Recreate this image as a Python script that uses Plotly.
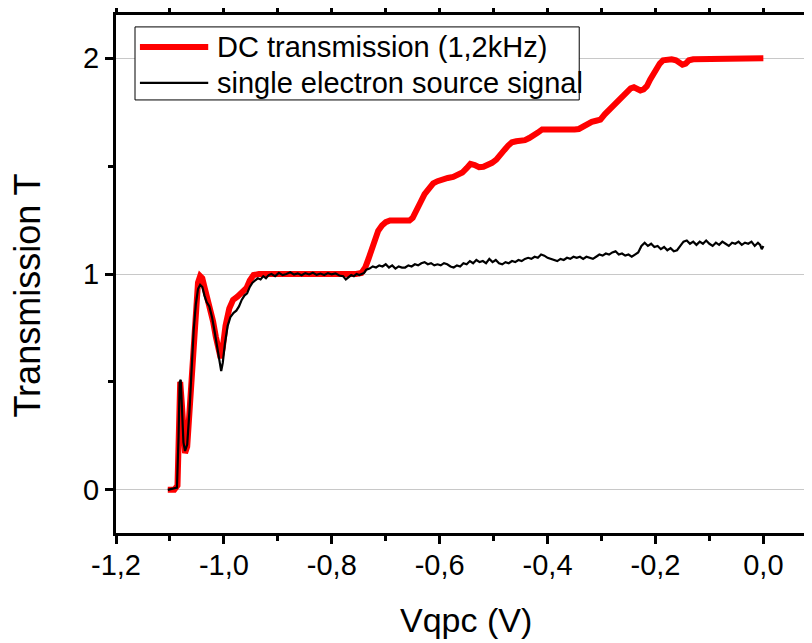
import plotly.graph_objects as go

red_x = [-1.104, -1.092, -1.086, -1.083, -1.081, -1.078, -1.075, -1.072, -1.068, -1.064, -1.060, -1.056,
         -1.052, -1.048, -1.044, -1.040, -1.035, -1.030, -1.025, -1.020, -1.015, -1.010, -1.006, -1.002,
         -0.997, -0.990, -0.983, -0.975, -0.965, -0.958, -0.952, -0.945, -0.935, -0.90, -0.85, -0.80,
         -0.77, -0.755, -0.745, -0.738, -0.732, -0.726, -0.720, -0.714, -0.707, -0.700, -0.692, -0.680,
         -0.668, -0.656, -0.650, -0.643, -0.636, -0.628, -0.620, -0.612, -0.604, -0.595, -0.585, -0.575,
         -0.566, -0.558, -0.550, -0.543, -0.535, -0.527, -0.519, -0.511, -0.503, -0.495, -0.487, -0.480,
         -0.473, -0.466, -0.458, -0.450, -0.442, -0.434, -0.426, -0.418, -0.410, -0.400, -0.390, -0.380,
         -0.370, -0.360, -0.350, -0.342, -0.334, -0.326, -0.318, -0.310, -0.302, -0.294, -0.286, -0.278,
         -0.270, -0.262, -0.254, -0.246, -0.240, -0.234, -0.228, -0.222, -0.216, -0.210, -0.204, -0.198,
         -0.192, -0.186, -0.178, -0.170, -0.162, -0.156, -0.150, -0.144, -0.138, -0.130, -0.120, -0.100,
         -0.080, -0.060, -0.040, -0.020, 0.0]
red_y = [0.0, 0.0, 0.02, 0.30, 0.50, 0.40, 0.22, 0.17, 0.20, 0.35, 0.55, 0.75,
         0.88, 0.96, 0.99, 0.98, 0.93, 0.88, 0.84, 0.78, 0.71, 0.64, 0.61, 0.66,
         0.76, 0.84, 0.88, 0.895, 0.92, 0.935, 0.97, 0.995, 1.0, 1.0, 1.0, 1.0,
         0.995, 1.0, 1.005, 1.03, 1.07, 1.11, 1.16, 1.20, 1.225, 1.24, 1.248, 1.25,
         1.25, 1.248, 1.26, 1.29, 1.33, 1.37, 1.40, 1.42, 1.43, 1.44, 1.445, 1.45,
         1.46, 1.47, 1.49, 1.51, 1.505, 1.495, 1.497, 1.505, 1.515, 1.53, 1.55, 1.575,
         1.595, 1.61, 1.615, 1.615, 1.62, 1.63, 1.64, 1.655, 1.67, 1.67, 1.665, 1.665,
         1.67, 1.668, 1.67, 1.672, 1.685, 1.695, 1.705, 1.71, 1.715, 1.74, 1.76, 1.78,
         1.80, 1.82, 1.84, 1.86, 1.865, 1.855, 1.85, 1.855, 1.87, 1.90, 1.93, 1.955,
         1.975, 1.99, 1.995, 1.995, 1.99, 1.98, 1.97, 1.975, 1.99, 1.995, 1.995, 2.0,
         1.998, 2.0, 1.998, 2.0, 2.0]

black_x = [-1.104, -1.092, -1.087, -1.084, -1.082, -1.080, -1.078, -1.075, -1.072, -1.068, -1.064, -1.060,
           -1.056, -1.052, -1.048, -1.044, -1.040, -1.036, -1.032, -1.027, -1.022, -1.017, -1.012, -1.008,
           -1.005, -1.002, -0.998, -0.993, -0.988, -0.982, -0.977, -0.972, -0.967, -0.962, -0.957, -0.952,
           -0.947, -0.942, -0.937, -0.932, -0.927, -0.922, -0.917, -0.912, -0.905, -0.898, -0.891, -0.884,
           -0.877, -0.870, -0.863, -0.856, -0.849, -0.842, -0.835, -0.828, -0.821, -0.814, -0.807, -0.800,
           -0.793, -0.786, -0.779, -0.774, -0.769, -0.764, -0.759, -0.754, -0.749, -0.744, -0.740, -0.736,
           -0.730, -0.724, -0.718, -0.712, -0.706, -0.700, -0.694, -0.688, -0.682, -0.676, -0.670, -0.664,
           -0.658, -0.652, -0.646, -0.640, -0.634, -0.628, -0.622, -0.616, -0.610, -0.604, -0.598, -0.592,
           -0.586, -0.580, -0.574, -0.568, -0.562, -0.556, -0.550, -0.544, -0.538, -0.532, -0.526, -0.520,
           -0.514, -0.508, -0.502, -0.496, -0.490, -0.484, -0.478, -0.472, -0.466, -0.460, -0.454, -0.448,
           -0.442, -0.436, -0.430, -0.424, -0.418, -0.412, -0.406, -0.400, -0.394, -0.388, -0.382, -0.376,
           -0.370, -0.364, -0.358, -0.352, -0.346, -0.340, -0.334, -0.328, -0.322, -0.316, -0.310, -0.304,
           -0.298, -0.292, -0.286, -0.280, -0.274, -0.268, -0.262, -0.256, -0.250, -0.244, -0.238, -0.232,
           -0.226, -0.220, -0.214, -0.208, -0.202, -0.196, -0.190, -0.184, -0.178, -0.172, -0.166, -0.160,
           -0.154, -0.148, -0.142, -0.136, -0.130, -0.124, -0.118, -0.112, -0.106, -0.100, -0.094, -0.088,
           -0.082, -0.076, -0.070, -0.064, -0.058, -0.052, -0.046, -0.040, -0.034, -0.028, -0.022, -0.016,
           -0.010, -0.006, -0.003, 0.0]
black_y = [0.0, 0.005, 0.01, 0.25, 0.50, 0.51, 0.38, 0.22, 0.18, 0.21, 0.36, 0.56,
           0.74, 0.86, 0.93, 0.95, 0.94, 0.90, 0.87, 0.85, 0.80, 0.73, 0.65, 0.58,
           0.55, 0.59, 0.68, 0.76, 0.80, 0.82, 0.83, 0.85, 0.88, 0.90, 0.91, 0.94,
           0.96, 0.97, 0.98, 0.975, 0.99, 0.98, 0.995, 1.0, 0.99, 1.005, 0.995, 1.0,
           1.008, 0.997, 1.003, 0.994, 1.004, 0.998, 1.006, 0.996, 1.002, 0.995, 1.004, 0.998,
           1.003, 0.993, 0.99, 0.975, 0.985, 0.995, 0.99, 1.0, 0.995, 1.0, 1.005, 1.02,
           1.025, 1.035, 1.03, 1.04, 1.035, 1.045, 1.03, 1.04, 1.025, 1.035, 1.03, 1.03,
           1.04, 1.035, 1.045, 1.04, 1.05, 1.055, 1.045, 1.05, 1.04, 1.045, 1.04, 1.05,
           1.045, 1.035, 1.03, 1.04, 1.035, 1.05, 1.045, 1.06, 1.05, 1.065, 1.055, 1.06,
           1.05, 1.07, 1.055, 1.065, 1.05, 1.045, 1.055, 1.05, 1.06, 1.055, 1.065, 1.06,
           1.07, 1.075, 1.07, 1.08, 1.075, 1.09, 1.085, 1.075, 1.07, 1.065, 1.06, 1.07,
           1.065, 1.075, 1.07, 1.08, 1.075, 1.08, 1.07, 1.08, 1.075, 1.07, 1.08, 1.09,
           1.085, 1.095, 1.09, 1.10, 1.105, 1.09, 1.095, 1.085, 1.09, 1.08, 1.09, 1.10,
           1.13, 1.145, 1.13, 1.14, 1.125, 1.13, 1.115, 1.125, 1.11, 1.12, 1.105, 1.11,
           1.13, 1.15, 1.155, 1.14, 1.15, 1.135, 1.15, 1.14, 1.155, 1.14, 1.13, 1.145,
           1.135, 1.15, 1.14, 1.13, 1.145, 1.14, 1.15, 1.135, 1.145, 1.14, 1.15, 1.13,
           1.145, 1.135, 1.115, 1.13]

x_tickvals = [-1.2, -1.0, -0.8, -0.6, -0.4, -0.2, 0.0]
x_ticktext = ["-1,2", "-1,0", "-0,8", "-0,6", "-0,4", "-0,2", "0,0"]
x_minor = [-1.1, -0.9, -0.7, -0.5, -0.3, -0.1]
y_tickvals = [0, 1, 2]
y_ticktext = ["0", "1", "2"]
y_minor = [0.5, 1.5]
x_title = "Vqpc (V)"
y_title = "Transmission T"
red_name = "DC transmission (1,2kHz)"
black_name = "single electron source signal"

FONT = "Liberation Sans, Arial, sans-serif"

fig = go.Figure()
fig.add_trace(go.Scatter(x=red_x, y=red_y, mode="lines", name=red_name,
                         line=dict(color="#ff0000", width=6)))
fig.add_trace(go.Scatter(x=black_x, y=black_y, mode="lines", name=black_name,
                         line=dict(color="#000000", width=2.2)))

# legend drawn as a boxed key (paper coordinates) to match the compact row spacing
LX0, LX1, LY0, LY1 = 0.027, 0.658, 0.836, 0.977
SX0, SX1, TX = 0.034, 0.131, 0.141
ROW1, ROW2 = 0.938, 0.869
shapes = [
    dict(type="rect", xref="paper", yref="paper", x0=LX0, x1=LX1, y0=LY0, y1=LY1,
         line=dict(color="black", width=1), fillcolor="white", layer="above"),
    dict(type="line", xref="paper", yref="paper", x0=SX0, x1=SX1, y0=ROW1, y1=ROW1,
         line=dict(color="#ff0000", width=6), layer="above"),
    dict(type="line", xref="paper", yref="paper", x0=SX0, x1=SX1, y0=ROW2, y1=ROW2,
         line=dict(color="black", width=2.2), layer="above"),
]

fig.update_layout(
    width=812, height=643,
    margin=dict(l=108, r=0, t=7, b=118, autoexpand=False),
    paper_bgcolor="white", plot_bgcolor="white",
    font=dict(family=FONT, color="black", size=29),
    showlegend=False,
    shapes=shapes,
    annotations=[
        dict(text=red_name, xref="paper", yref="paper", x=TX, y=ROW1,
             xanchor="left", yanchor="middle", showarrow=False,
             font=dict(size=29, family=FONT, color="black")),
        dict(text=black_name, xref="paper", yref="paper", x=TX, y=ROW2,
             xanchor="left", yanchor="middle", showarrow=False,
             font=dict(size=29, family=FONT, color="black")),
        dict(text=x_title, xref="paper", yref="paper", x=0.497, y=-0.168,
             xanchor="center", yanchor="middle", showarrow=False,
             font=dict(size=34, family=FONT, color="black")),
        dict(text=y_title, xref="paper", yref="paper", x=-0.126, y=0.459,
             xanchor="center", yanchor="middle", showarrow=False, textangle=-90,
             font=dict(size=36, family=FONT, color="black")),
    ],
)
fig.update_xaxes(
    range=[-1.2, 0.105], showgrid=False, zeroline=False, automargin=False,
    showline=True, linecolor="black", linewidth=3, mirror="ticks",
    ticks="outside", ticklen=8, tickwidth=3, tickcolor="black",
    tickmode="array", tickvals=x_tickvals, ticktext=x_ticktext,
    tickfont=dict(size=29, family=FONT), ticklabelstandoff=-4,
    minor=dict(tickmode="array", tickvals=x_minor, ticks="outside", ticklen=5, tickwidth=3, tickcolor="black", showgrid=False),
)
fig.update_yaxes(
    range=[-0.2, 2.2], showgrid=True, gridcolor="#c8c8c8", gridwidth=1, zeroline=False, automargin=False,
    showline=True, linecolor="black", linewidth=3, mirror=False,
    ticks="outside", ticklen=8, tickwidth=3, tickcolor="black",
    tickmode="array", tickvals=y_tickvals, ticktext=y_ticktext,
    tickfont=dict(size=29, family=FONT),
    minor=dict(tickmode="array", tickvals=y_minor, ticks="outside", ticklen=5, tickwidth=3, tickcolor="black", showgrid=False),
)

fig.write_html("out.html")
